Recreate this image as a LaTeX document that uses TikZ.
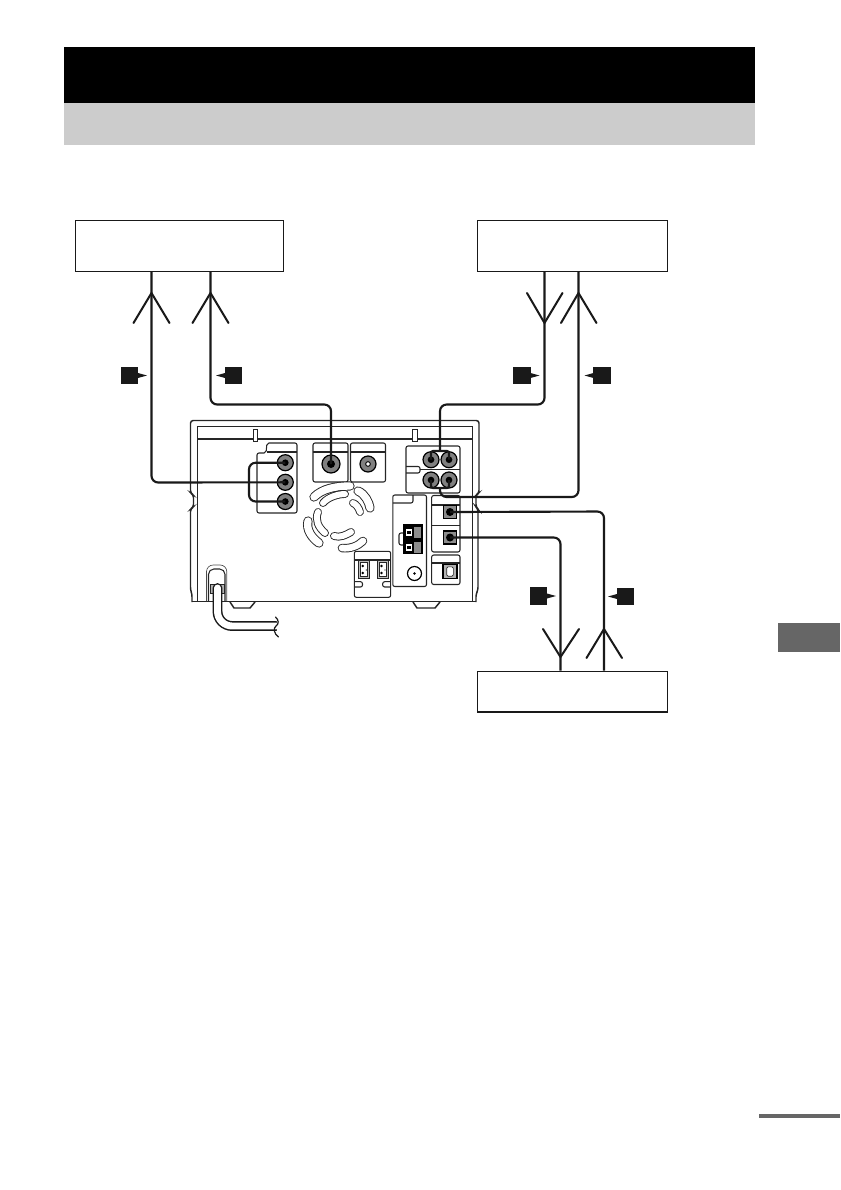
\documentclass[tikz,border=0pt]{standalone}
\usepackage{xcolor}
\usepackage{tikz}
\usetikzlibrary{arrows.meta,positioning,calc}
\tikzset{
  fx/.style={x=0.75pt, y=-0.75pt},
  d box/.style={draw=black!90, line width=0.8pt, fill=white, minimum height=38pt, inner sep=0pt},
  d tag/.style={fill=black!90, minimum size=12.8pt, inner sep=0pt},
  d jack/.style={circle, draw=black, line width=0.9pt, fill=black!50, minimum size=12pt, inner sep=0pt},
  d core/.style={circle, fill=black, minimum size=5pt, inner sep=0pt},
  d ring/.style={circle, fill=white, draw=black, line width=0.7pt, minimum size=3.5pt, inner sep=0pt},
  d opt/.style={draw=black, line width=0.8pt, fill=black!45, minimum size=10pt, inner sep=0pt},
  u cable/.style={line width=1.6pt, black!90, rounded corners=5pt},
  u fork/.style={line width=1.5pt, black!90, line cap=round},
  u body/.style={line width=1.1pt, black!85},
  u panel/.style={line width=0.8pt, black!85, rounded corners=1.5pt},
  u vent/.style={black!85, double=white, line cap=round, line width=0.7pt},
}
\begin{document}
\begin{tikzpicture}[fx]
\useasboundingbox (0,0) rectangle (840,1190);
% page furniture
\fill[black] (64,47) rectangle (755,103);
\fill[black!20] (64,103) rectangle (755,145);
\fill[black!60] (778,623) rectangle (840,652);
\fill[black!60] (759,1113.5) rectangle (840,1118);
% components
\node[d box, minimum width=156pt] (boxtv) at (179.5,245.7) {};
\node[d box, minimum width=142.5pt] (boxvcr) at (572.5,246) {};
\node[d box, minimum width=142.5pt, minimum height=30.7pt] (boxmd) at (572.5,691.5) {};
% unit body
\draw[u body, rounded corners=2pt] (192,602) -- (192,594) -- (190.5,590) -- (190.5,509) -- (193.5,507) -- (193.5,495) -- (190.5,493) -- (190.5,420.5) -- (479,420.5) -- (479,493) -- (476,495) -- (476,507) -- (478,509) -- (478,590) -- (476,594) -- (476,602);
\draw[line width=1.3pt, black!85] (192,601.5) -- (476,601.5);
\draw[line width=0.8pt, black!85] (197.3,601) -- (197.3,426.5) -- (472.8,426.5) -- (472.8,601);
\draw[line width=0.8pt, black!85] (197.3,439) -- (472.8,439);
\draw[line width=0.6pt, black!85, fill=white] (253,429) rectangle (257.5,441);
\draw[line width=0.6pt, black!85, fill=white] (412.5,429) rectangle (417.5,441);
\draw[u body, fill=white] (230,602) -- (234,608) -- (250,608) -- (255,602);
\draw[u body, fill=white] (413,602) -- (417,608) -- (435,608) -- (440,602);
% panels
\draw[u panel] (257,513) -- (257,453) -- (266,453) -- (267,443) -- (297,443) -- (297,513) -- cycle;
\draw[u panel] (267,452) -- (297,452);
\draw[u panel] (313,443) rectangle (348,482);
\draw[u panel] (313,452) -- (348,452);
\draw[u panel] (350.5,443) rectangle (385.5,482);
\draw[u panel] (350.5,452) -- (385.5,452);
\draw[u panel] (412,446) -- (460,446) -- (460,493) -- (406,493) -- (406,446) -- (412,446);
\draw[u panel] (406,466.5) -- (420,466.5) -- (420,473) -- (406,473);
\draw[u panel] (420,469.7) -- (460,469.7);
\draw[u panel] (392.8,586.5) -- (392.8,495) -- (426.5,495) -- (426.5,586.5) -- cycle;
\draw[u panel] (392.8,503) -- (413,503) -- (413,495);
\draw[u panel] (431.7,495.5) -- (460,495.5) -- (460,552) -- (431.7,552) -- cycle;
\draw[u panel] (431.7,505) -- (460,505);
\draw[u panel] (431.7,525.7) -- (460,525.7);
\draw[u panel] (431.7,555) rectangle (460,584.5);
\draw[u panel] (431.7,563) -- (460,563);
\draw[u panel] (354.3,551.3) rectangle (390.7,597.3);
\draw[u panel] (354.3,560) -- (390.7,560);
\draw[u panel] (354.3,581.7) -- (362.5,581.7) -- (362.5,587) -- (354.3,587);
\draw[u panel] (390.7,581.7) -- (382.7,581.7) -- (382.7,587) -- (390.7,587);
% fan vents
\draw[u vent, double distance=5.5pt] (314,497) .. controls (322,489) and (335,486) .. (350,486);
\draw[u vent, double distance=4.5pt] (323,503) .. controls (328,497) and (338,494) .. (345,494);
\draw[u vent, double distance=5.5pt] (358,491) .. controls (365,494) and (369,502) .. (370,508);
\draw[u vent, double distance=4.5pt] (353,503) .. controls (356,504) and (359,508) .. (360,512);
\draw[u vent, double distance=5.5pt] (308,521) .. controls (306,530) and (312,538) .. (319,543);
\draw[u vent, double distance=4.5pt] (318,512) .. controls (315,520) and (318,527) .. (325,533);
\draw[u vent, double distance=4.5pt] (334,536) .. controls (340,538) and (346,535) .. (351,532);
\draw[u vent, double distance=5pt] (342,548) .. controls (350,549) and (358,546) .. (363,541);
% jacks
\foreach \name/\px/\py in {jl1/285.3/462.7, jl2/285.3/482.3, jl3/285.3/501.5, jr1/431/459.7, jr2/449/459.7, jr3/431/480, jr4/449/480}{
  \node[d jack] (\name) at (\px,\py) {};
  \node[d core] (\name c) at (\name.center) {};
}
\node[d jack, minimum size=13.5pt] (jsv) at (331,464) {};
\node[d core, minimum size=6pt] (jsvc) at (jsv.center) {};
\node[d jack] (jco) at (368,464) {};
\node[d ring] (jcoc) at (jco.center) {};
\node[d jack, fill=white, minimum size=10.5pt] (jant) at (414.5,573.5) {};
\node[d core, minimum size=2pt] (jantc) at (jant.center) {};
\node[d opt] (op1) at (450,512) {};
\node[d core, minimum size=6pt] (op1c) at (op1.center) {};
\node[d opt, line width=1.1pt] (op2) at (450,537.5) {};
\node[d core, minimum size=6pt] (op2c) at (op2.center) {};
\node[draw=black, line width=0.8pt, fill=black!30, minimum size=10.5pt, inner sep=0pt] (usb) at (450,571.5) {};
\node[draw=black!85, line width=0.5pt, fill=white, minimum width=5pt, minimum height=7pt, inner sep=0pt, rounded corners=1pt] (usbc) at (usb.center) {};
% speaker terminal
\fill[black] (403.3,524.3) rectangle (422.7,554.3);
\draw[u panel] (403,533) -- (399,533) -- (399,545) -- (403,545);
\foreach \py in {529,544}{
  \fill[white] (405.5,\py) rectangle (412,\py+7);
  \fill[black!45] (414,\py-2) rectangle (421,\py+9);
  \fill[black] (407,\py+1.5) rectangle (410.5,\py+5);
}
% sockets
\foreach \px in {358.3,377}{
  \draw[line width=0.7pt, black!85, fill=black!25] (\px,560.7) rectangle (\px+11.5,578.3);
  \draw[line width=0.5pt, black!85, fill=white] (\px+2,562.5) rectangle (\px+9.5,576.5);
  \fill[black] (\px+4.5,566) circle (1pt);
  \fill[black] (\px+4.5,573) circle (1pt);
  \fill[black] (\px+8,570) circle (0.5pt);
}
% mains
\draw[line width=0.5pt, black!70, rounded corners=5pt] (206.5,601) -- (206.5,565) -- (226.8,565) -- (226.8,601);
\draw[line width=0.8pt, black!85, rounded corners=4pt] (208.5,601) -- (208.5,569) -- (225,569) -- (225,601);
\draw[line width=0.6pt, black!85, fill=black!30] (210.5,584) rectangle (224,593);
\coordinate (cordend) at (276,626);
\draw[line width=1.1pt, black!90, double=white, double distance=5.2pt, rounded corners=11pt, line cap=round] (217.5,588) -- (217.5,626) -- (cordend);
\fill[white] (276.5,618) rectangle (284,634);
\draw[line width=0.9pt, black!90, line cap=round] (275.5,617) .. controls (279,620) and (279,624) .. (276,626) .. controls (273,628) and (274,634) .. (278.5,637);
% tips of the plugs
\coordinate (pa) at (151.5,293);
\coordinate (pb) at (210.5,293);
\coordinate (pc) at (544.5,323);
\coordinate (pd) at (578.5,293);
\coordinate (pe) at (560.5,657);
\coordinate (pf) at (604,629);
% cables
\draw[u cable] (boxtv.south -| pa) -- (151.5,482.5) -- (jl2.center);
\draw[u cable] (boxtv.south -| pb) -- (210.5,404.5) -- (331,404.5) -- (jsv.center);
\draw[u cable] (boxvcr.south -| pc) -- (544.5,404.5) -- (440,404.5) -- (440,451);
\draw[u cable, rounded corners=1.5pt] (jr1.center) -- (431,451) -- (449,451) -- (jr2.center);
\draw[u cable] (boxvcr.south -| pd) -- (578.5,497) -- (440,497) -- (440,488);
\draw[u cable, rounded corners=1.5pt] (jr3.center) -- (431,488) -- (449,488) -- (jr4.center);
\draw[u cable] (boxmd.north -| pe) -- (560.5,537.5) -- (op2.center);
\draw[u cable] (boxmd.north -| pf) -- (604,511.5) -- (op1.center);
\draw[u cable] (jl1.center) -- (249,462.7) -- (249,501.5) -- (jl3.center);
% plug forks
\draw[u fork] (133.5,323) -- (pa) -- (169.5,323);
\draw[u fork] (192.5,323) -- (pb) -- (228.5,323);
\draw[u fork] (527,293) -- (pc) -- (562.5,293);
\draw[u fork] (561,323) -- (pd) -- (596.5,323);
\draw[u fork] (543,629) -- (pe) -- (579,629);
\draw[u fork] (586.5,658) -- (pf) -- (622,658);
% cable tags
\foreach \name/\px/\py/\dir in {ta/129.5/375.5/1, tb/233.5/375.5/-1, tc/522/375.5/1, td/602/375.5/-1, te/538.5/596/1, tf/625.5/596.5/-1}{
  \node[d tag] (\name) at (\px,\py) {};
  \fill[black!90] (\px+\dir*8.5,\py-2.5) -- (\px+\dir*17.5,\py) -- (\px+\dir*8.5,\py+2.5) -- cycle;
}
\end{tikzpicture}
\end{document}
